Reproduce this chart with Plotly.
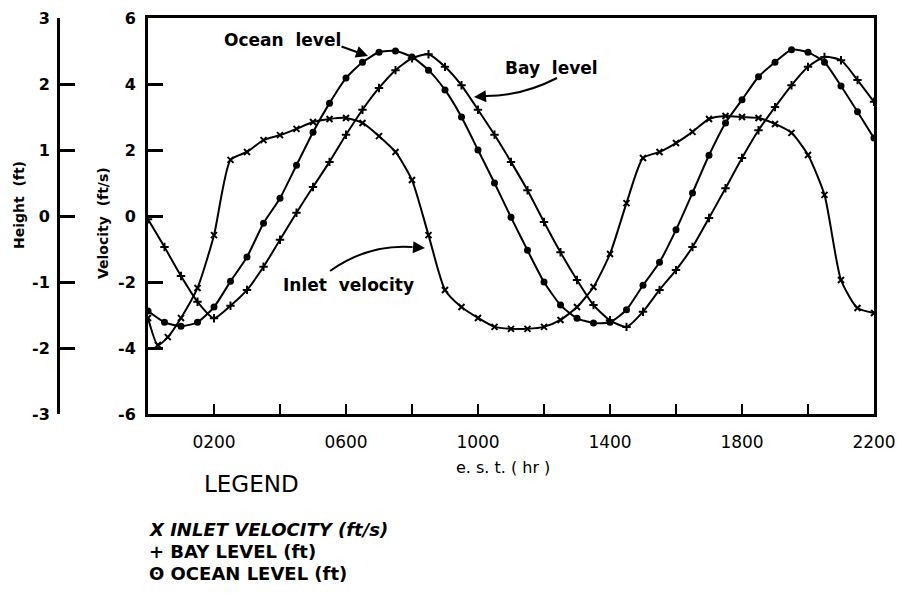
import plotly.graph_objects as go

# time grid (hours, est) -- markers are every half hour
hours = [0, 0.5, 1, 1.5, 2, 2.5, 3, 3.5, 4, 4.5, 5, 5.5, 6, 6.5, 7, 7.5, 8, 8.5, 9, 9.5,
         10, 10.5, 11, 11.5, 12, 12.5, 13, 13.5, 14, 14.5, 15, 15.5, 16, 16.5, 17, 17.5,
         18, 18.5, 19, 19.5, 20, 20.5, 21, 21.5, 22]

# ocean level (ft)
ocean_level = [-1.44, -1.61, -1.67, -1.61, -1.38, -0.99, -0.62, -0.11, 0.27, 0.77,
               1.27, 1.71, 2.09, 2.33, 2.48, 2.50, 2.41, 2.21, 1.91, 1.50,
               1.00, 0.50, -0.02, -0.52, -1.00, -1.35, -1.55, -1.62, -1.61, -1.42,
               -1.05, -0.70, -0.21, 0.35, 0.92, 1.41, 1.76, 2.11, 2.33, 2.52,
               2.48, 2.33, 1.97, 1.58, 1.18]

# bay level (ft)
bay_level = [-0.05, -0.47, -0.91, -1.30, -1.55, -1.36, -1.12, -0.77, -0.36, 0.05,
             0.44, 0.82, 1.23, 1.61, 1.94, 2.21, 2.39, 2.45, 2.26, 1.98,
             1.61, 1.23, 0.82, 0.39, -0.09, -0.55, -0.97, -1.35, -1.58, -1.68,
             -1.45, -1.12, -0.82, -0.47, -0.03, 0.42, 0.88, 1.30, 1.65, 1.98,
             2.26, 2.41, 2.36, 2.06, 1.73]

# inlet velocity (ft/s)
inlet_hours = [0, 0.3, 0.6, 1, 1.5, 2, 2.5, 3, 3.5, 4, 4.5, 5, 5.5, 6, 6.5, 7, 7.5, 8, 8.5, 9, 9.5,
               10, 10.5, 11, 11.5, 12, 12.5, 13, 13.5, 14, 14.5, 15, 15.5, 16, 16.5, 17, 17.5,
               18, 18.5, 19, 19.5, 20, 20.5, 21, 21.5, 22]
inlet_velocity = [-3.09, -3.91, -3.67, -3.09, -2.18, -0.58, 1.70, 1.94, 2.30, 2.45, 2.64,
                  2.85, 2.94, 2.97, 2.82, 2.42, 1.94, 1.09, -0.58, -2.24, -2.76,
                  -3.09, -3.36, -3.42, -3.42, -3.36, -3.15, -2.76, -2.15, -1.15, 0.39,
                  1.76, 1.94, 2.21, 2.55, 2.94, 3.03, 3.00, 2.97, 2.79, 2.52,
                  1.85, 0.64, -1.94, -2.79, -2.94]

x_tickvals = [2, 4, 6, 8, 10, 12, 14, 16, 18, 20, 22]
x_ticktext = ["0200", "", "0600", "", "1000", "", "1400", "", "1800", "", "2200"]
vel_ticks = [-6, -4, -2, 0, 2, 4, 6]
vel_text = ["-6", "-4", "-2", "0", "2", "4", "6"]
height_ticks = [-3, -2, -1, 0, 1, 2, 3]
height_text = ["-3", "-2", "-1", "0", "1", "2", "3"]
legend_lines = ["<i>X INLET VELOCITY (ft/s)</i>", "+ BAY LEVEL (ft)", "ʘ OCEAN LEVEL (ft)"]

W, H = 904, 595
L, R, T, B = 50, 30, 18, 181
PW, PH = W - L - R, H - T - B


def px(x):
    return (x - L) / PW


def py(y):
    return (H - B - y) / PH


font = "DejaVu Sans"
ink = "black"

fig = go.Figure()
fig.add_trace(go.Scatter(x=inlet_hours, y=inlet_velocity, mode="lines+markers",
                         line=dict(color=ink, width=2, shape="spline", smoothing=0.6),
                         marker=dict(symbol="x-thin", size=6, line=dict(color=ink, width=2)),
                         name="Inlet velocity"))
fig.add_trace(go.Scatter(x=hours, y=bay_level, mode="lines+markers", yaxis="y2",
                         line=dict(color=ink, width=2, shape="spline", smoothing=0.6),
                         marker=dict(symbol="cross-thin", size=6, line=dict(color=ink, width=2)),
                         name="Bay level"))
fig.add_trace(go.Scatter(x=hours, y=ocean_level, mode="lines+markers", yaxis="y2",
                         line=dict(color=ink, width=2, shape="spline", smoothing=0.6),
                         marker=dict(symbol="circle", size=7, color=ink),
                         name="Ocean level"))

yfont = dict(family=font, size=16, color=ink, weight="bold")
xfont = dict(family=font, size=17, color=ink)
fig.update_layout(
    width=W, height=H, margin=dict(l=L, r=R, t=T, b=B, autoexpand=False),
    plot_bgcolor="white", paper_bgcolor="white", showlegend=False,
    xaxis=dict(domain=[px(148), 1], range=[0, 22], tickvals=x_tickvals, ticktext=x_ticktext,
               ticks="inside", ticklen=10, tickwidth=2, tickcolor=ink,
               showline=True, linecolor=ink, linewidth=3, mirror=True, showgrid=False,
               zeroline=False, tickfont=xfont, ticklabelstandoff=11, automargin=False),
    yaxis=dict(range=[-6, 6], tickvals=vel_ticks, ticktext=vel_text,
               ticks="inside", ticklen=15, tickwidth=3, tickcolor=ink,
               showline=True, linecolor=ink, linewidth=3, mirror=True, showgrid=False,
               zeroline=False, tickfont=yfont, ticklabelstandoff=6, automargin=False),
    yaxis2=dict(range=[-3, 3], tickvals=height_ticks, ticktext=height_text,
                overlaying="y", anchor="free", position=px(58),
                side="left", ticks="inside", ticklen=15, tickwidth=3, tickcolor=ink,
                showline=True, linecolor=ink, linewidth=3, showgrid=False,
                zeroline=False, tickfont=yfont, ticklabelstandoff=4, automargin=False),
)

ann = []
# axis titles
ann.append(dict(x=px(19), y=py(205), text="Height  (ft)", textangle=-90,
                font=dict(family=font, size=14, color=ink, weight="bold")))
ann.append(dict(x=px(103), y=py(223), text="Velocity  (ft/s)", textangle=-90,
                font=dict(family=font, size=14, color=ink, weight="bold")))
ann.append(dict(x=px(503), y=py(467), text="e.\u00a0s.\u00a0t.\u00a0(\u00a0hr\u00a0)",
                font=dict(family=font, size=16, color=ink)))
# legend block
ann.append(dict(x=px(251), y=py(484), text="LEGEND",
                font=dict(family=font, size=23, color=ink)))
for i, line in enumerate(legend_lines):
    ann.append(dict(x=px(147), y=py(529 + 22 * i), text=line, xanchor="left",
                    font=dict(family=font, size=18, color=ink, weight="bold")))
# curve labels
lab = dict(family=font, size=17, color=ink, weight="bold")
ann.append(dict(x=px(282), y=py(40), text="Ocean\u00a0\u00a0level", font=lab))
ann.append(dict(x=px(551), y=py(68), text="Bay\u00a0\u00a0level", font=lab))
ann.append(dict(x=px(348), y=py(285), text="Inlet\u00a0\u00a0velocity", font=lab))
for a in ann:
    a.setdefault("xanchor", "center")
    a.update(xref="paper", yref="paper", yanchor="middle", showarrow=False)

# arrows
arrows = [((368, 56), (-28, -10)), ((474, 97), (14, -1)), ((425, 248), (-14, -1))]
for (tx, ty), (ax, ay) in arrows:
    ann.append(dict(xref="paper", yref="paper", x=px(tx), y=py(ty), ax=ax, ay=ay, text="",
                    showarrow=True, arrowhead=2, arrowsize=1.2, arrowwidth=2, arrowcolor=ink,
                    standoff=0))
fig.update_layout(annotations=ann)

curves = [((557, 78), (522, 96), (486, 96)), ((330, 271), (368, 244), (412, 247))]
for (x0, y0), (cx, cy), (x1, y1) in curves:
    fig.add_shape(type="path", xref="paper", yref="paper",
                  path=f"M {px(x0)},{py(y0)} Q {px(cx)},{py(cy)} {px(x1)},{py(y1)}",
                  line=dict(color=ink, width=2))

# the page's default body margin would push the figure 8px down and right
fig.write_html("out.html", config={"displayModeBar": False},
               post_script="document.body.style.margin='0';")
